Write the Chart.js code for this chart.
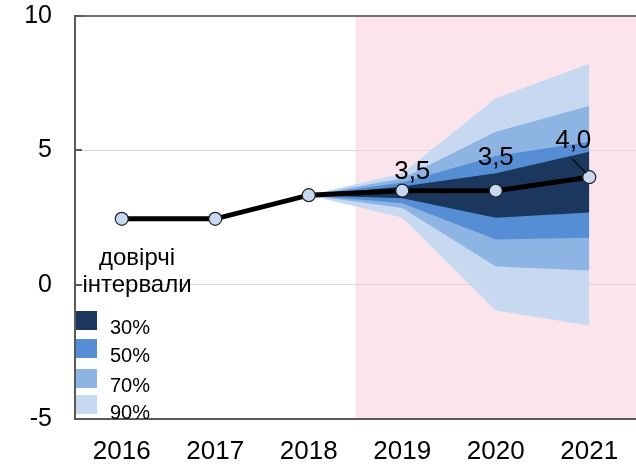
<!DOCTYPE html>
<html lang="uk">
<head>
<meta charset="utf-8">
<script src="https://cdn.jsdelivr.net/npm/chart.js@4.4.1/dist/chart.umd.min.js"></script>
<style>
  html, body { margin: 0; padding: 0; background: #fff; }
  #wrap { width: 636px; height: 464px; }
</style>
</head>
<body>
<div id="wrap"><canvas id="fanChart"></canvas></div>
<script>
// Дані прогнозу
const years = ['2016', '2017', '2018', '2019', '2020', '2021'];
const forecast = [2.45, 2.45, 3.33, 3.5, 3.5, 4.0];

// Межі довірчих інтервалів
const upper30 = [null, null, 3.33, 3.65, 4.15, 4.95];
const lower30 = [null, null, 3.33, 3.22, 2.49, 2.69];
const upper50 = [null, null, 3.33, 3.80, 4.79, 5.32];
const lower50 = [null, null, 3.33, 3.03, 1.68, 1.75];
const upper70 = [null, null, 3.33, 3.95, 5.69, 6.65];
const lower70 = [null, null, 3.33, 2.85, 0.68, 0.53];
const upper90 = [null, null, 3.33, 4.15, 6.94, 8.22];
const lower90 = [null, null, 3.33, 2.50, -0.96, -1.52];

const bandLabels = ['30%', '50%', '70%', '90%'];
const yTicks = [-5, 0, 5, 10];
const labelledPoints = [3, 4, 5]; // роки з підписами значень
const legendTitle = ['довірчі', 'інтервали'];
const forecastStart = 2.5; // межа між фактом і прогнозом (індекс категорії)

const bandColors = ['#1b375e', '#558ed5', '#8eb4e3', '#c6d9f1'];
const FONT = '"Liberation Sans", Arial, sans-serif';

const bandPairs = [[upper30, lower30], [upper50, lower50], [upper70, lower70], [upper90, lower90]];

const datasets = [{
  data: forecast,
  borderColor: '#000',
  borderWidth: 5,
  pointRadius: 6.5,
  pointBackgroundColor: '#c6d9f1',
  pointBorderColor: '#222',
  pointBorderWidth: 1.2,
  fill: false,
  order: 0
}];
bandPairs.forEach((pair, i) => {
  datasets.push({
    data: pair[0], fill: '+1', backgroundColor: bandColors[i],
    borderWidth: 0, pointRadius: 0, order: i + 1
  });
  datasets.push({
    data: pair[1], fill: false,
    borderWidth: 0, pointRadius: 0, order: i + 1
  });
});

// Рожевий фон для прогнозного періоду
const forecastShade = {
  id: 'forecastShade',
  beforeDraw(chart) {
    const { ctx, chartArea, scales } = chart;
    const x0 = scales.x.getPixelForValue(forecastStart);
    ctx.save();
    ctx.fillStyle = '#fbe4ec';
    ctx.fillRect(x0, chartArea.top, chartArea.right - x0, chartArea.bottom - chartArea.top);
    ctx.restore();
  }
};

// Підписи значень і виноска для останньої точки
const valueLabels = {
  id: 'valueLabels',
  afterDatasetsDraw(chart) {
    const { ctx } = chart;
    const pts = chart.getDatasetMeta(0).data;
    const offsets = { 3: [10, -19], 4: [0, -33], 5: [-16, -36] };
    ctx.save();
    ctx.font = '26px ' + FONT;
    ctx.fillStyle = '#000';
    ctx.textAlign = 'center';
    ctx.textBaseline = 'middle';
    labelledPoints.forEach(i => {
      const p = pts[i];
      const off = offsets[i];
      const txt = forecast[i].toFixed(1).replace('.', ',');
      ctx.fillText(txt, p.x + off[0], p.y + off[1]);
    });
    // виноска
    const last = pts[5];
    ctx.strokeStyle = '#000';
    ctx.lineWidth = 1.2;
    ctx.beginPath();
    ctx.moveTo(last.x - 17, last.y - 18);
    ctx.lineTo(last.x - 3, last.y - 4);
    ctx.stroke();
    ctx.restore();
  }
};

// Легенда всередині області графіка + короткі риски осі Y
const bandLegend = {
  id: 'bandLegend',
  afterDraw(chart) {
    const { ctx, chartArea, scales } = chart;
    const left = chartArea.left;
    ctx.save();
    // риски
    ctx.strokeStyle = '#595959';
    ctx.lineWidth = 2;
    yTicks.forEach(v => {
      const y = Math.round(scales.y.getPixelForValue(v));
      ctx.beginPath();
      ctx.moveTo(left, y);
      ctx.lineTo(left + 7, y);
      ctx.stroke();
    });
    ctx.fillStyle = '#000';
    ctx.font = '24px ' + FONT;
    ctx.textAlign = 'center';
    ctx.textBaseline = 'alphabetic';
    ctx.fillText(legendTitle[0], left + 62, 265);
    ctx.fillText(legendTitle[1], left + 62, 292);
    const boxTops = [311, 339, 369, 395];
    const textBase = [334, 362, 392, 419];
    ctx.font = '20px ' + FONT;
    ctx.textAlign = 'left';
    bandLabels.forEach((lab, i) => {
      ctx.fillStyle = bandColors[i];
      ctx.fillRect(left + 1, boxTops[i], 21, 19);
      ctx.fillStyle = '#000';
      ctx.fillText(lab, left + 35, textBase[i]);
    });
    ctx.restore();
  }
};

new Chart(document.getElementById('fanChart'), {
  type: 'line',
  data: { labels: years, datasets },
  options: {
    responsive: true,
    maintainAspectRatio: false,
    animation: false,
    layout: { autoPadding: false, padding: { top: 16, right: 0, left: 0, bottom: 0 } },
    elements: { line: { tension: 0 } },
    plugins: {
      legend: { display: false },
      tooltip: { enabled: false },
      filler: { propagate: false }
    },
    scales: {
      x: {
        offset: true,
        grid: { display: false, drawTicks: false },
        border: { display: true, color: '#595959', width: 2 },
        ticks: { color: '#000', padding: 17, font: { family: FONT, size: 26 } },
        afterFit(scale) {
          scale.height = 45;
          scale.paddingLeft = 0;
          scale.paddingRight = 0;
        }
      },
      y: {
        min: yTicks[0],
        max: yTicks[yTicks.length - 1],
        afterBuildTicks(scale) { scale.ticks = yTicks.map(v => ({ value: v })); },
        grid: {
          drawTicks: false,
          color: ctx => (ctx.tick && ctx.tick.value === yTicks[yTicks.length - 1]) ? '#6f6f6f' : '#d9d9d9',
          lineWidth: ctx => (ctx.tick && ctx.tick.value === yTicks[yTicks.length - 1]) ? 2 : 1
        },
        border: { display: true, color: '#595959', width: 2 },
        ticks: { color: '#000', padding: 23, font: { family: FONT, size: 25 } },
        afterFit(scale) {
          scale.width = 75;
          scale.paddingTop = 0;
          scale.paddingBottom = 0;
        }
      }
    }
  },
  plugins: [forecastShade, valueLabels, bandLegend]
});
</script>
</body>
</html>
